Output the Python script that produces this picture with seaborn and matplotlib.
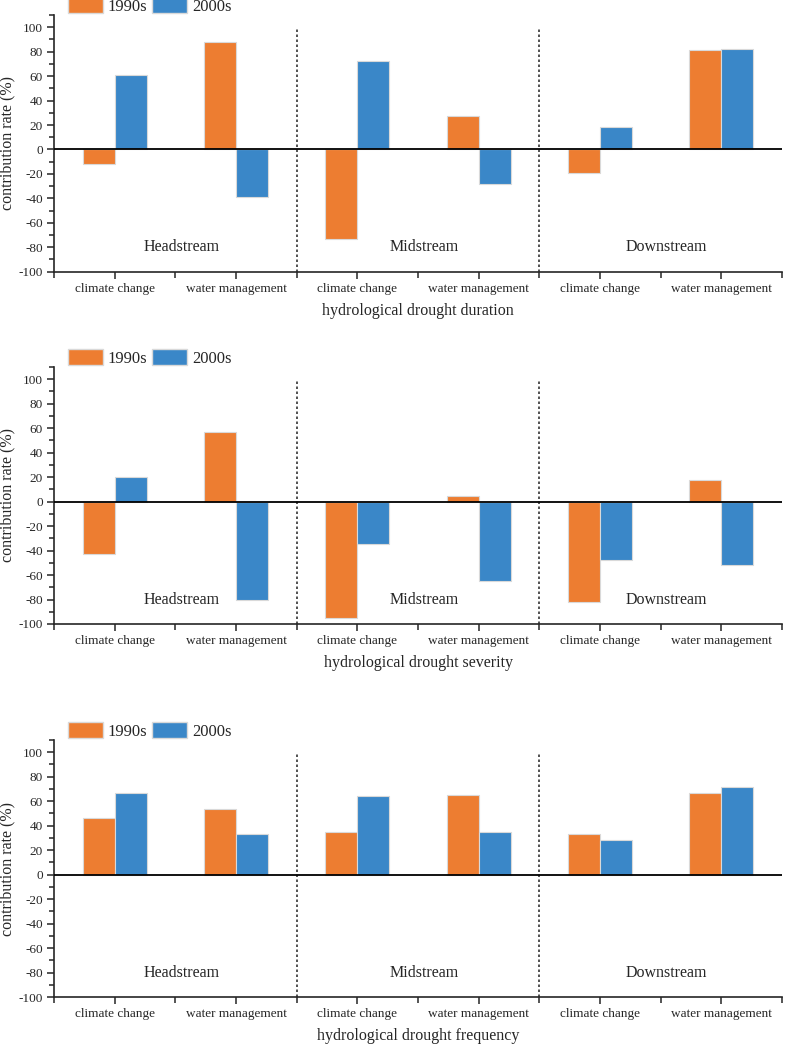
import numpy as np
import pandas as pd
import seaborn as sns
from matplotlib import pyplot as plt
from matplotlib.patches import Patch
from matplotlib.ticker import MultipleLocator

regions = ["Headstream", "Midstream", "Downstream"]
factors = ["climate change", "water management"]
periods = ["1990s", "2000s"]

# values per bar, ordered Head-CC, Head-WM, Mid-CC, Mid-WM, Down-CC, Down-WM
duration_1990s = [-12, 88, -73, 27, -19, 81]
duration_2000s = [61, -39, 72, -28, 18, 82]
severity_1990s = [-43, 57, -95, 5, -82, 18]
severity_2000s = [20, -80, -35, -65, -48, -52]
frequency_1990s = [46, 54, 35, 65, 33, 67]
frequency_2000s = [67, 33, 64, 35, 28, 72]

panel_titles = ["hydrological drought duration",
                "hydrological drought severity",
                "hydrological drought frequency"]
panel_data = [(duration_1990s, duration_2000s),
              (severity_1990s, severity_2000s),
              (frequency_1990s, frequency_2000s)]

colors = {"1990s": "#ED7D31", "2000s": "#3A87C8"}

sns.set_style("ticks")
plt.rcParams["font.family"] = ["Liberation Serif", "DejaVu Serif"]
plt.rcParams["axes.unicode_minus"] = False

keys = [r + " " + f for r in regions for f in factors]
tick_labels = [f for r in regions for f in factors]

fig = plt.figure(figsize=(7.89, 10.47), dpi=100)
left, right = 54 / 789, 782 / 789
boxes = [(15, 271.7), (367, 624), (740, 997)]

for (top_px, bot_px), title, (v90, v00) in zip(boxes, panel_titles, panel_data):
    bottom = 1 - bot_px / 1047
    height = (bot_px - top_px) / 1047
    ax = fig.add_axes([left, bottom, right - left, height])

    df = pd.DataFrame({
        "key": keys * 2,
        "period": ["1990s"] * 6 + ["2000s"] * 6,
        "value": list(v90) + list(v00),
    })
    sns.barplot(data=df, x="key", y="value", hue="period", order=keys,
                hue_order=periods, palette=colors, saturation=1, width=0.53,
                gap=0, edgecolor="#d9d9d9", linewidth=0.8, ax=ax, legend=False)

    ax.set_xlim(-0.5, 5.5)
    ax.set_ylim(-100, 110)
    ax.axhline(0, color="black", lw=1.3, zorder=3)
    for xv in [1.5, 3.5]:
        ax.plot([xv, xv], [-100, 100], color="#333333", ls=(0, (1.5, 1.5)), lw=1.2)

    for i, r in enumerate(regions):
        ax.text(2 * i + 0.55, -80, r, ha="center", va="center", fontsize=11.5)

    ax.set_xticks(range(6))
    ax.set_xticklabels(tick_labels, fontsize=9.5)
    ax.set_xticks(np.arange(-0.5, 6, 1.0), minor=True)
    ax.set_yticks(range(-100, 101, 20))
    ax.set_yticklabels([str(v) for v in range(-100, 101, 20)], fontsize=9.5)
    ax.yaxis.set_minor_locator(MultipleLocator(10))
    ax.tick_params(which="major", direction="out", length=5, width=1.1, pad=3)
    ax.tick_params(which="minor", direction="out", length=3.5, width=1.1)
    ax.tick_params(axis="x", which="minor", length=4)

    sns.despine(ax=ax)
    for s in ["left", "bottom"]:
        ax.spines[s].set_linewidth(1.2)

    ax.set_xlabel(title, fontsize=11.5, labelpad=6)
    ax.set_ylabel("contribution rate (%)", fontsize=11.5)
    ax.yaxis.set_label_coords(-0.053, 0.5)

    handles = [Patch(facecolor=colors[p], edgecolor="#d9d9d9", label=p) for p in periods]
    ax.legend(handles=handles, loc="lower left", bbox_to_anchor=(0.019, 1.0),
              ncol=2, frameon=False, fontsize=12, handlelength=2.1,
              handleheight=1.1, handletextpad=0.3, columnspacing=0.3,
              borderpad=0, borderaxespad=0)

fig.savefig("out.png", dpi=100)
